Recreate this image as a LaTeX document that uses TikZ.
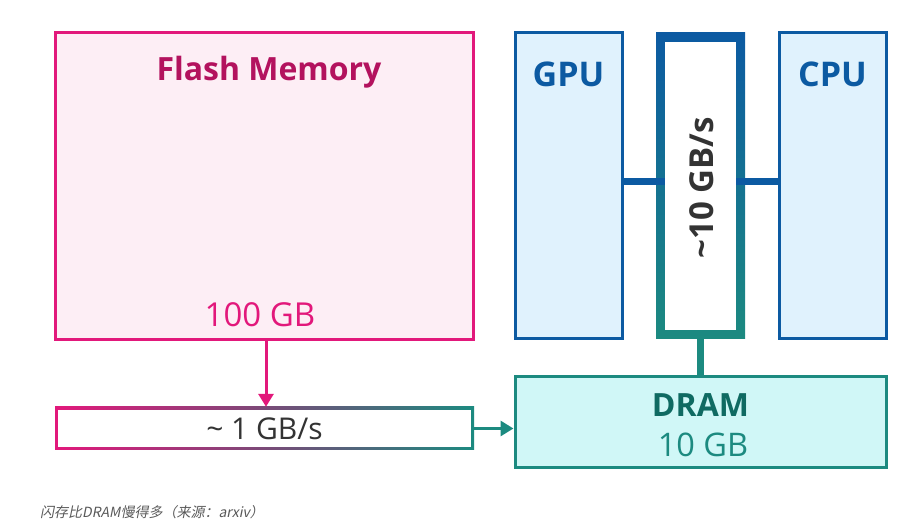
\documentclass[tikz,border=0pt]{standalone}
\usepackage{fontspec}
\setmainfont{Open Sans}
\newfontfamily\cjk[FakeSlant=0.2]{Noto Sans CJK SC}
\usetikzlibrary{arrows.meta,positioning,calc}

\definecolor{flashpink}{HTML}{E2187B}
\definecolor{flashfill}{HTML}{FDEEF5}
\definecolor{flashtitle}{HTML}{B3125E}
\definecolor{chipblue}{HTML}{0C5AA2}
\definecolor{chipfill}{HTML}{E0F2FD}
\definecolor{dramteal}{HTML}{1C8A80}
\definecolor{dramfill}{HTML}{D0F7F7}
\definecolor{dramtext}{HTML}{0F6A62}
\definecolor{busmid}{HTML}{7A4A78}
\definecolor{textgray}{HTML}{333333}

\tikzset{
    chip/.style={draw=chipblue, fill=chipfill, line width=3pt, minimum width=107pt, minimum height=306pt},
    chiplabel/.style={text=chipblue, font=\bfseries\fontsize{34}{34}\selectfont},
    link/.style={line width=7pt},
}

\begin{document}
\begin{tikzpicture}[x=1pt, y=1pt]
    \useasboundingbox (0,0) rectangle (924,529);

    % Flash memory
    \node[draw=flashpink, fill=flashfill, line width=3pt, minimum width=418pt, minimum height=307pt] (flash) at (264,342.5) {};
    \node[text=flashtitle, font=\bfseries\fontsize{32}{32}\selectfont] (flashname) at (269,457) {Flash Memory};
    \node[text=flashpink, font=\fontsize{33}{33}\selectfont] (flashsize) at (260,214) {100 GB};

    % Slow link (gradient border)
    \node[left color=flashpink, right color=dramteal, middle color=busmid, minimum width=419pt, minimum height=43pt] (onegb) at (264.5,100.5) {};
    \node[fill=white, minimum width=413pt, minimum height=37pt, text=textgray, font=\fontsize{30}{30}\selectfont] (onegbtext) at (onegb) {\textasciitilde{} 1 GB/s};

    % GPU, bus, CPU
    \node[chip] (gpu) at (568.5,343) {};
    \node[chip] (cpu) at (832.5,343) {};
    \node[chiplabel] (gpuname) at (568.5,455) {GPU};
    \node[chiplabel] (cpuname) at (832.5,455) {CPU};

    \node[top color=chipblue, bottom color=dramteal, minimum width=89pt, minimum height=306pt] (bus) at (700.5,343) {};
    \node[fill=white, minimum width=71pt, minimum height=288pt] (businner) at (bus) {};
    \node[rotate=90, text=textgray, font=\bfseries\fontsize{33}{33}\selectfont] (busname) at (702,341) {\textasciitilde10 GB/s};

    % DRAM
    \node[draw=dramteal, fill=dramfill, line width=3pt, minimum width=371pt, minimum height=91pt] (dram) at (700.5,106.5) {};
    \node[text=dramtext, font=\bfseries\fontsize{32}{32}\selectfont] (dramname) at (700.5,124) {DRAM};
    \node[text=dramteal, font=\fontsize{32.5}{32.5}\selectfont] (dramsize) at (703,84) {10 GB};

    % Links
    \draw[link, chipblue] ([yshift=4pt]gpu.east) -- ([yshift=4pt]gpu.east -| businner.west);
    \draw[link, chipblue] ([yshift=4pt]cpu.west) -- ([yshift=4pt]cpu.west -| businner.east);
    \draw[link, dramteal] (bus.south) -- (dram.north);

    % Arrows
    \draw[-{Triangle[width=15pt,length=13pt]}, line width=3pt, flashpink] ([xshift=2pt]flash.south) -- ([xshift=2pt]flash.south |- onegb.north);
    \draw[-{Triangle[width=15pt,length=13pt]}, line width=3pt, dramteal] (onegb.east) -- (onegb.east -| dram.west);

    % Caption
    \node[anchor=west, text=black!65, font=\cjk\fontsize{14}{14}\selectfont, inner sep=0pt] (caption) at (40,17) {闪存比DRAM慢得多（来源：arxiv）};
\end{tikzpicture}
\end{document}
